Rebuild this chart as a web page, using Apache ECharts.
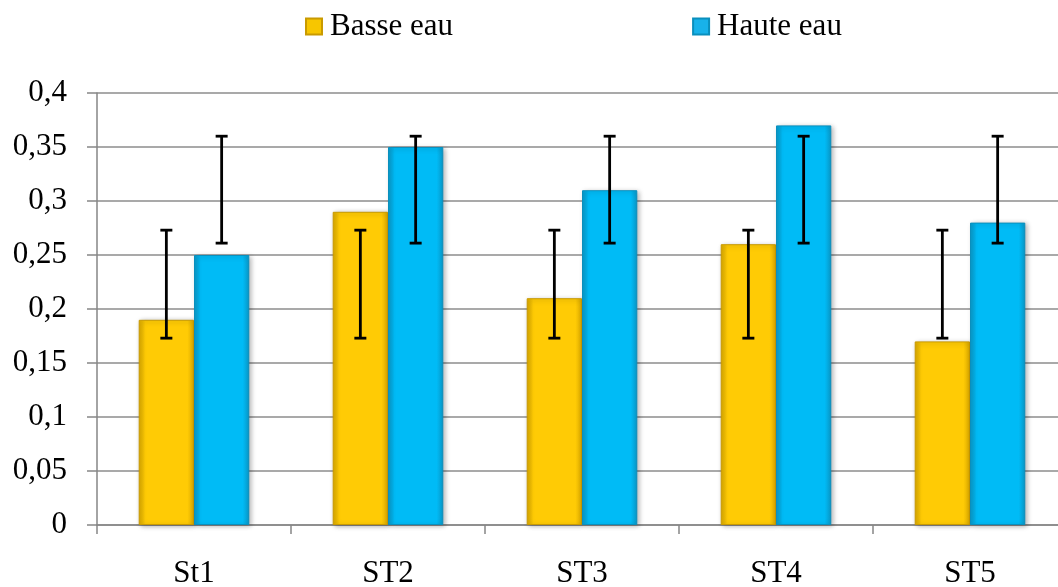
<!DOCTYPE html>
<html>
<head>
<meta charset="utf-8">
<script src="https://cdn.jsdelivr.net/npm/echarts@6/dist/echarts.min.js"></script>
<style>
  html, body { margin: 0; padding: 0; background: #fff; }
  #chart { width: 1058px; height: 587px; }
</style>
</head>
<body>
<div id="chart"></div>
<script>
const stations = ['St1', 'ST2', 'ST3', 'ST4', 'ST5']
const basseEau = [0.19, 0.29, 0.21, 0.26, 0.17]
const hauteEau = [0.25, 0.35, 0.31, 0.37, 0.28]
// error bars (same spread for every station)
const basseLow = [0.173, 0.173, 0.173, 0.173, 0.173]
const basseHigh = [0.273, 0.273, 0.273, 0.273, 0.273]
const hauteLow = [0.261, 0.261, 0.261, 0.261, 0.261]
const hauteHigh = [0.36, 0.36, 0.36, 0.36, 0.36]

const BAR_W = 0.285
const font = 'Liberation Serif'

const myChart = echarts.init(document.getElementById('chart'))

const barColor = (edge, mid) => ({
  type: 'linear', x: 0, y: 0, x2: 1, y2: 0,
  colorStops: [
    { offset: 0, color: edge },
    { offset: 0.12, color: mid },
    { offset: 0.88, color: mid },
    { offset: 1, color: edge }
  ]
})

const errSeries = (name, low, high, side) => ({
  name: name,
  type: 'custom',
  z: 10,
  silent: true,
  data: low.map((v, i) => [i, v, high[i]]),
  renderItem: (params, api) => {
    const band = api.size([1, 0])[0]
    const dx = side * band * BAR_W / 2
    const lo = api.coord([api.value(0), api.value(1)])
    const hi = api.coord([api.value(0), api.value(2)])
    const x = lo[0] + dx
    const cap = 6
    const style = { stroke: '#000', lineWidth: 2.8 }
    return {
      type: 'group',
      children: [
        { type: 'line', shape: { x1: x, y1: lo[1], x2: x, y2: hi[1] }, style: style },
        { type: 'line', shape: { x1: x - cap, y1: lo[1], x2: x + cap, y2: lo[1] }, style: style },
        { type: 'line', shape: { x1: x - cap, y1: hi[1], x2: x + cap, y2: hi[1] }, style: style }
      ]
    }
  }
})

const option = {
  animation: false,
  legend: {
    data: [
      { name: 'Basse eau', itemStyle: { color: barColor('#C99A00', '#F7C600') } },
      { name: 'Haute eau', itemStyle: { color: barColor('#0A8FBD', '#18B2EA') } }
    ],
    left: 300,
    top: 6,
    icon: 'rect',
    itemWidth: 16,
    itemHeight: 16,
    itemGap: 239,
    textStyle: { fontFamily: font, fontSize: 31, color: '#000', padding: [0, 0, 0, 3] }
  },
  grid: {
    left: 97,
    right: -9,
    top: 93,
    bottom: 62,
    containLabel: false,
    outerBoundsMode: 'none'
  },
  xAxis: {
    type: 'category',
    data: stations,
    axisLine: { lineStyle: { color: '#868686', width: 1.5 } },
    axisTick: { show: true, length: 9, lineStyle: { color: '#868686', width: 1.5 } },
    axisLabel: { fontFamily: font, fontSize: 31, color: '#000', margin: 33 }
  },
  yAxis: {
    type: 'value',
    min: 0,
    max: 0.4,
    interval: 0.05,
    axisLine: { show: true, lineStyle: { color: '#868686', width: 1.5 } },
    axisTick: { show: true, length: 10, lineStyle: { color: '#868686', width: 1.5 } },
    splitLine: { lineStyle: { color: '#8C8C8C', width: 1.5 } },
    axisLabel: {
      fontFamily: font,
      fontSize: 31,
      color: '#000',
      margin: 30,
      formatter: v => String(parseFloat(v.toFixed(2))).replace('.', ',')
    }
  },
  series: [
    {
      name: 'Basse eau',
      type: 'bar',
      data: basseEau,
      barWidth: (BAR_W * 100) + '%',
      barGap: '0%',
      itemStyle: {
        color: barColor('#D9A800', '#FFCB05'),
        borderColor: '#C99A00',
        borderWidth: 1,
        shadowBlur: 5,
        shadowOffsetX: 2,
        shadowOffsetY: 1,
        shadowColor: 'rgba(0,0,0,0.3)'
      }
    },
    {
      name: 'Haute eau',
      type: 'bar',
      data: hauteEau,
      barWidth: (BAR_W * 100) + '%',
      barGap: '0%',
      itemStyle: {
        color: barColor('#0A98C8', '#00BBF6'),
        borderColor: '#0A8FBD',
        borderWidth: 1,
        shadowBlur: 5,
        shadowOffsetX: 2,
        shadowOffsetY: 1,
        shadowColor: 'rgba(0,0,0,0.3)'
      }
    },
    errSeries('errBasse', basseLow, basseHigh, -1),
    errSeries('errHaute', hauteLow, hauteHigh, 1)
  ]
}

myChart.setOption(option)
</script>
</body>
</html>
